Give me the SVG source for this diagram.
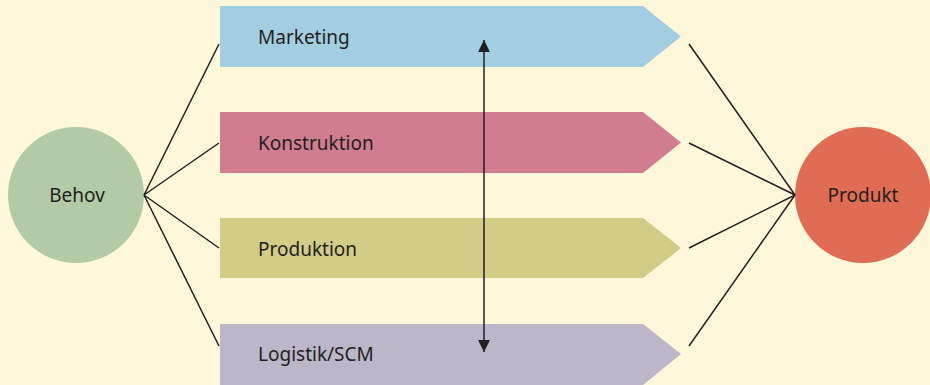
<svg xmlns="http://www.w3.org/2000/svg" width="930" height="385" viewBox="0 0 930 385">
<defs>
<style>
.lbl{font-family:"Noto Sans","Liberation Sans",sans-serif;font-size:19px;fill:#231f20}
.ln{stroke:#231f20;stroke-width:1.5;fill:none}
</style>
<marker id="ah" viewBox="0 0 12 16" refX="12" refY="6" markerWidth="12" markerHeight="16" markerUnits="userSpaceOnUse" orient="auto-start-reverse">
<path d="M0,0 L12,6 L0,12 Z" fill="#231f20"/>
</marker>
</defs>
<rect width="930" height="385" fill="#fef7d9"/>
<g id="marketing"><path d="M220,6 H643 L681,36.5 L643,67 H220 Z" fill="#a3cde0"/><text class="lbl" x="258" y="44">Marketing</text></g>
<g id="konstruktion"><path d="M220,112 H643 L681,142.5 L643,173 H220 Z" fill="#d27d8f"/><text class="lbl" x="258" y="150">Konstruktion</text></g>
<g id="produktion"><path d="M220,218 H643 L681,248 L643,278 H220 Z" fill="#d3cc86"/><text class="lbl" x="258" y="256">Produktion</text></g>
<g id="logistik"><path d="M220,324 H643 L681,354 L643,385 H220 Z" fill="#bdb5c8"/><text class="lbl" x="258" y="361">Logistik/SCM</text></g>
<g id="behov"><circle cx="76" cy="195" r="68" fill="#b2caa5"/><text class="lbl" x="77" y="202" text-anchor="middle">Behov</text></g>
<g id="produkt"><circle cx="863" cy="195" r="68" fill="#e06c53"/><text class="lbl" x="863" y="202" text-anchor="middle">Produkt</text></g>
<g id="connectors">
<path class="ln" d="M219,44 L144,195 L219,143 M144,195 L219,248 M144,195 L219,346"/>
<path class="ln" d="M689,44 L795,195 L689,143 M795,195 L689,248 M795,195 L689,346"/>
<line class="ln" x1="484" y1="40" x2="484" y2="352" marker-start="url(#ah)" marker-end="url(#ah)"/>
</g>
</svg>
